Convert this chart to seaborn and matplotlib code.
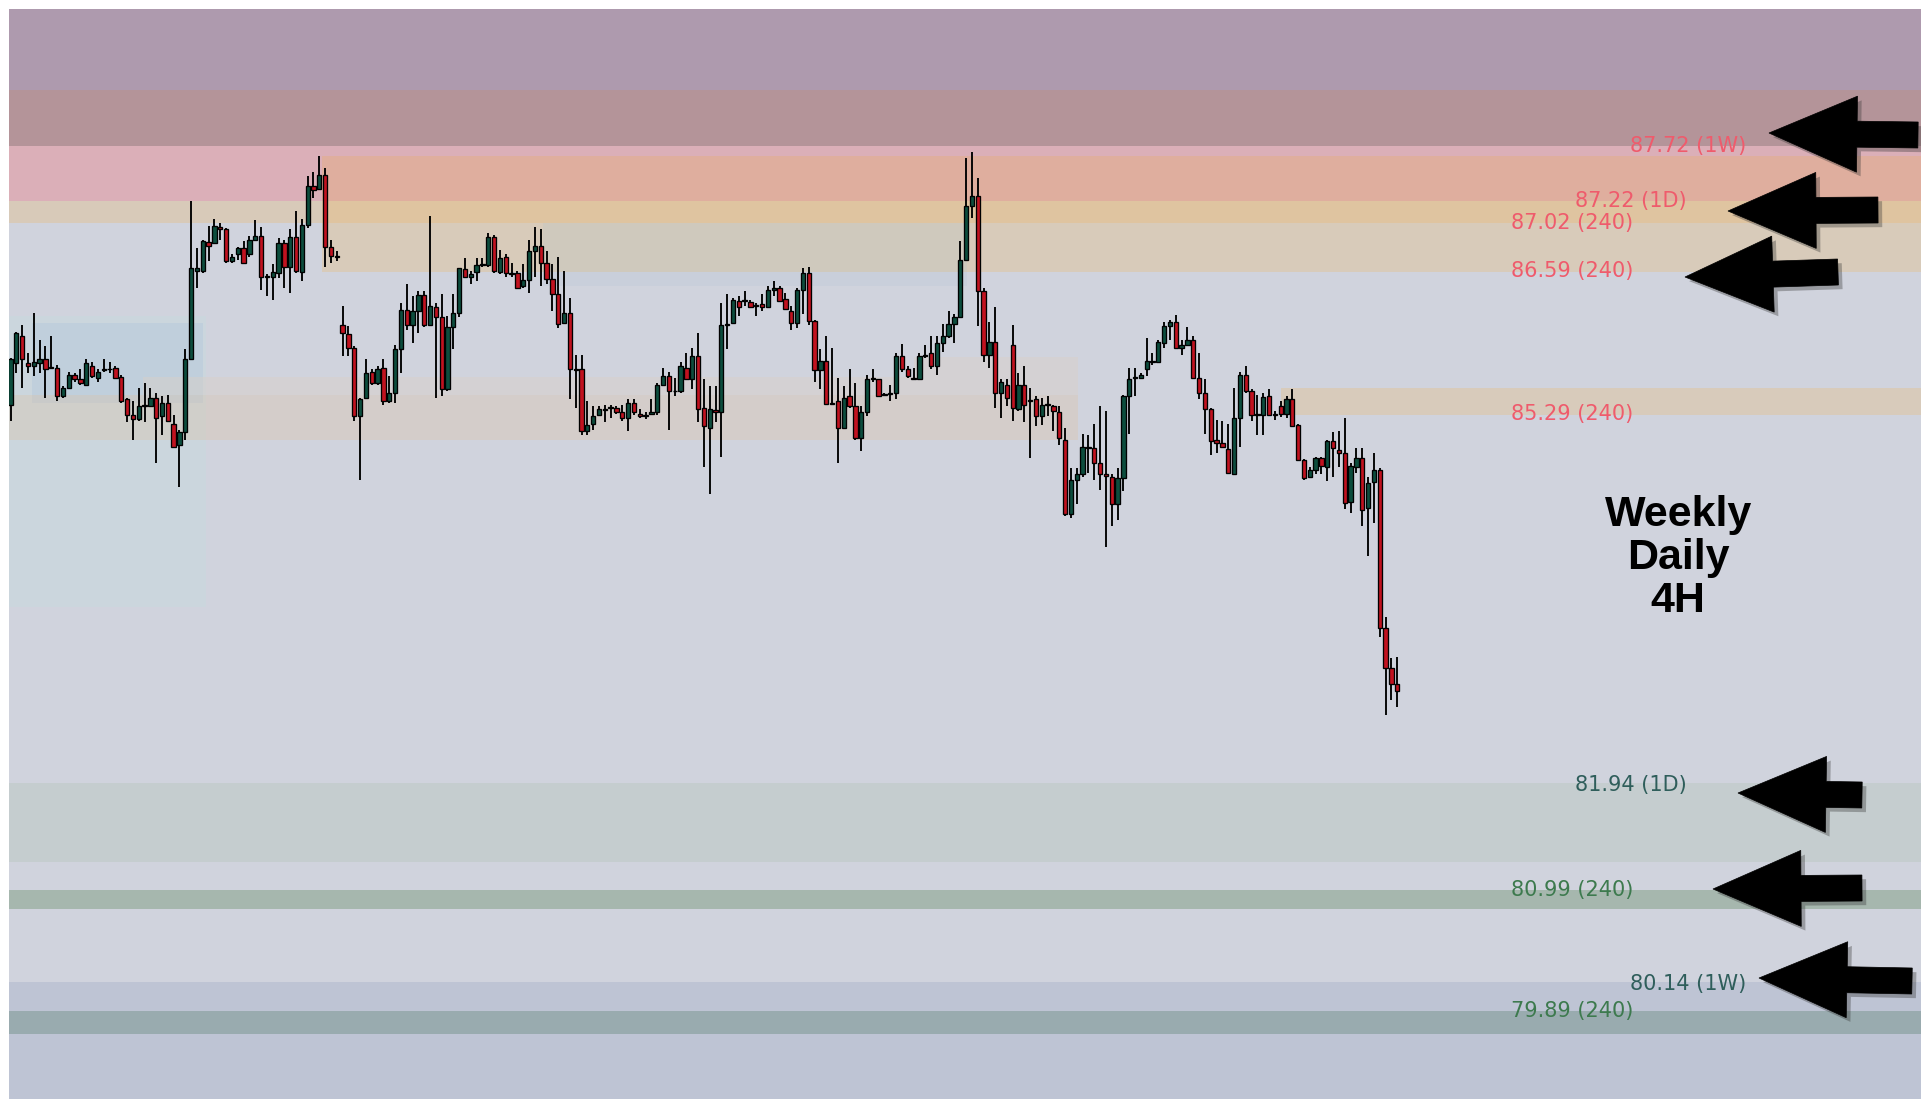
import numpy as np
import matplotlib
matplotlib.use("Agg")
import matplotlib.pyplot as plt
import matplotlib.transforms as mtransforms
import matplotlib.patheffects as pe
from matplotlib.patches import Polygon
import seaborn as sns

# 4H candles (open, high, low, close)
opens = [
    85.35, 85.73, 85.97, 85.73, 85.70, 85.73, 85.76, 85.68, 85.68, 85.43,
    85.50, 85.62, 85.58, 85.53, 85.70, 85.59, 85.66, 85.67, 85.68, 85.60,
    85.40, 85.26, 85.22, 85.34, 85.34, 85.41, 85.25, 85.37, 85.18, 84.99,
    85.10, 85.76, 86.56, 86.56, 86.82, 86.81, 86.96, 86.94, 86.65,
    86.71, 86.77, 86.71, 86.84, 86.88, 86.51, 86.51, 86.54, 86.81, 86.60,
    86.87, 86.55, 86.98, 87.33, 87.30, 87.43, 86.78, 86.70, 86.07, 85.99,
    85.86, 85.25, 85.41, 85.65, 85.55, 85.68, 85.38, 85.46, 85.85, 86.21,
    86.07, 86.20, 86.34, 86.07, 86.23, 86.14, 85.49, 86.05, 86.18, 86.58, 86.51,
    86.55, 86.61, 86.61, 86.87, 86.55, 86.69, 86.54, 86.54, 86.42, 86.48,
    86.74, 86.79, 86.63, 86.49, 86.35, 86.09, 86.18, 85.67, 85.67, 85.11,
    85.18, 85.26, 85.30, 85.32, 85.32, 85.28, 85.23, 85.37, 85.27, 85.25,
    85.27, 85.28, 85.53, 85.61, 85.47, 85.47, 85.68, 85.58, 85.79,
    85.32, 85.14, 85.30, 85.28, 86.07, 86.09, 86.29, 86.29, 86.28, 86.24,
    86.26, 86.23, 86.39, 86.41, 86.31, 86.20, 86.09, 86.39, 86.54, 86.11,
    85.66, 85.75, 85.36, 85.38, 85.14, 85.43, 85.34, 85.05, 85.28, 85.58,
    85.58, 85.44, 85.45, 85.46, 85.79, 85.67, 85.59, 85.58, 85.79,
    85.82, 85.70, 85.91, 85.97, 86.08, 86.14, 86.66, 87.15, 87.24, 86.38,
    85.80, 85.92, 85.46, 85.53, 85.89, 85.31, 85.53, 85.38, 85.40, 85.25,
    85.35, 85.34, 85.28, 85.03, 84.36, 84.67, 84.72, 84.97, 84.96, 84.82,
    84.72, 84.70, 84.45, 84.69, 85.43, 85.59, 85.59, 85.67, 85.74, 85.74,
    85.91, 86.06, 86.10, 85.86, 85.89, 85.94, 85.59, 85.46, 85.31, 85.03,
    85.00, 84.95, 84.72, 85.23, 85.62, 85.47, 85.26, 85.26, 85.43, 85.26,
    85.34, 85.27, 85.40, 85.17, 84.85, 84.70, 84.76, 84.87, 84.79, 85.02,
    84.94, 84.91, 84.47, 84.79, 84.87, 84.42, 84.65, 84.76, 83.33, 82.97, 82.82,
]
highs = [
    85.77, 86.01, 86.07, 85.82, 86.18, 85.94, 85.88, 85.97, 85.71, 85.52,
    85.65, 85.64, 85.67, 85.76, 85.74, 85.67, 85.76, 85.74, 85.70, 85.62,
    85.41, 85.38, 85.50, 85.55, 85.50, 85.46, 85.43, 85.44, 85.26, 85.12,
    85.85, 87.19, 86.77, 86.84, 86.97, 87.03, 86.99, 86.95, 86.71,
    86.78, 86.83, 86.88, 87.02, 86.96, 86.53, 86.62, 86.86, 86.84, 86.94,
    87.10, 87.03, 87.42, 87.46, 87.60, 87.49, 86.84, 86.74, 86.24, 86.06,
    85.88, 85.41, 85.76, 85.67, 85.70, 85.76, 85.61, 85.89, 86.27, 86.44,
    86.33, 86.38, 86.38, 87.06, 86.27, 86.35, 86.15, 86.35, 86.59, 86.68, 86.56,
    86.68, 86.68, 86.90, 86.89, 86.75, 86.71, 86.63, 86.56, 86.62, 86.84,
    86.96, 86.94, 86.74, 86.62, 86.69, 86.56, 86.32, 85.80, 85.80, 85.38,
    85.34, 85.34, 85.35, 85.35, 85.34, 85.35, 85.40, 85.40, 85.31, 85.28,
    85.40, 85.55, 85.68, 85.65, 85.59, 85.74, 85.82, 85.86, 86.00,
    85.58, 85.52, 85.52, 86.27, 86.35, 86.32, 86.33, 86.38, 86.30, 86.27,
    86.35, 86.42, 86.47, 86.42, 86.36, 86.24, 86.41, 86.59, 86.60, 86.12,
    85.85, 85.97, 85.86, 85.59, 85.52, 85.67, 85.55, 85.34, 85.62, 85.67,
    85.58, 85.46, 85.53, 85.82, 85.90, 85.70, 85.68, 85.82, 85.89,
    85.97, 85.97, 86.08, 86.20, 86.17, 86.83, 87.58, 87.64, 87.40, 86.41,
    86.10, 86.23, 85.58, 85.58, 86.07, 85.64, 85.70, 85.50, 85.43, 85.41,
    85.43, 85.35, 85.34, 85.14, 84.78, 84.78, 85.09, 85.08, 85.18, 85.34,
    85.29, 84.72, 84.78, 85.44, 85.68, 85.68, 85.64, 85.95, 85.82, 85.94,
    86.10, 86.12, 86.16, 85.94, 86.05, 85.97, 85.82, 85.58, 85.32, 85.21,
    85.20, 85.18, 85.50, 85.65, 85.70, 85.49, 85.44, 85.46, 85.49, 85.29,
    85.38, 85.43, 85.49, 85.18, 84.86, 84.79, 84.88, 84.88, 85.03, 85.10,
    85.11, 85.23, 84.82, 84.96, 84.96, 84.70, 84.91, 84.78, 83.43, 83.06, 83.07,
]
lows = [
    85.20, 85.64, 85.50, 85.64, 85.61, 85.64, 85.41, 85.67, 85.38, 85.41,
    85.50, 85.56, 85.53, 85.52, 85.59, 85.56, 85.65, 85.64, 85.58, 85.37,
    85.19, 85.03, 85.20, 85.19, 85.34, 84.82, 85.08, 85.19, 84.96, 84.61,
    85.03, 85.76, 86.41, 86.54, 86.65, 86.80, 86.84, 86.63, 86.63,
    86.66, 86.63, 86.69, 86.83, 86.39, 86.33, 86.30, 86.50, 86.41, 86.36,
    86.54, 86.47, 86.95, 87.22, 87.30, 86.60, 86.63, 86.65, 85.79, 85.79,
    85.20, 84.67, 85.40, 85.53, 85.53, 85.35, 85.37, 85.37, 85.64, 86.03,
    85.91, 86.00, 86.05, 86.07, 85.41, 85.43, 85.47, 85.85, 86.14, 86.50, 86.44,
    86.47, 86.60, 86.60, 86.54, 86.53, 86.51, 86.51, 86.40, 86.41, 86.36,
    86.51, 86.42, 86.44, 86.20, 86.04, 86.08, 85.40, 85.32, 85.08, 85.08,
    85.12, 85.25, 85.19, 85.23, 85.27, 85.20, 85.11, 85.26, 85.23, 85.22,
    85.27, 85.26, 85.52, 85.12, 85.43, 85.46, 85.58, 85.49, 85.19,
    84.79, 84.54, 85.19, 84.88, 85.85, 86.08, 86.15, 86.24, 86.23, 86.15,
    86.20, 86.23, 86.33, 86.28, 86.21, 86.03, 86.04, 86.17, 86.07, 85.56,
    85.49, 85.35, 85.35, 84.82, 85.14, 85.32, 85.03, 84.93, 85.25, 85.56,
    85.43, 85.43, 85.38, 85.40, 85.65, 85.59, 85.57, 85.58, 85.77,
    85.67, 85.62, 85.83, 85.95, 85.91, 86.14, 86.65, 87.04, 86.06, 85.74,
    85.68, 85.32, 85.23, 85.34, 85.20, 85.29, 85.19, 84.87, 85.16, 85.17,
    85.25, 85.11, 84.99, 84.34, 84.33, 84.45, 84.70, 84.73, 84.67, 84.58,
    84.06, 84.25, 84.31, 84.57, 85.09, 85.43, 85.58, 85.61, 85.71, 85.73,
    85.86, 85.94, 85.85, 85.80, 85.88, 85.58, 85.40, 85.09, 84.90, 84.91,
    84.96, 84.72, 84.72, 84.97, 85.46, 85.20, 85.08, 85.08, 85.26, 85.21,
    85.24, 85.23, 85.15, 84.84, 84.67, 84.69, 84.72, 84.72, 84.66, 84.70,
    84.79, 84.41, 84.37, 84.73, 84.25, 83.98, 84.28, 83.25, 82.54, 82.68, 82.62,
]
closes = [
    85.76, 86.00, 85.76, 85.70, 85.74, 85.76, 85.67, 85.69, 85.43, 85.50,
    85.62, 85.58, 85.55, 85.73, 85.61, 85.65, 85.67, 85.67, 85.59, 85.38,
    85.26, 85.22, 85.34, 85.34, 85.41, 85.23, 85.37, 85.20, 84.97, 85.10,
    85.76, 86.59, 86.59, 86.83, 86.79, 86.97, 86.94, 86.65, 86.69,
    86.77, 86.63, 86.84, 86.88, 86.51, 86.51, 86.55, 86.81, 86.60, 86.87,
    86.56, 86.98, 87.33, 87.29, 87.43, 86.78, 86.70, 86.69, 86.00, 85.86,
    85.25, 85.40, 85.64, 85.55, 85.67, 85.38, 85.46, 85.85, 86.21, 86.07,
    86.20, 86.34, 86.07, 86.24, 86.14, 85.49, 86.05, 86.18, 86.59, 86.51, 86.53,
    86.61, 86.62, 86.87, 86.56, 86.68, 86.54, 86.53, 86.41, 86.48, 86.74,
    86.79, 86.63, 86.49, 86.35, 86.08, 86.18, 85.67, 85.66, 85.11, 85.17,
    85.25, 85.31, 85.31, 85.33, 85.28, 85.23, 85.37, 85.28, 85.25, 85.25,
    85.28, 85.53, 85.61, 85.47, 85.47, 85.70, 85.58, 85.79, 85.31,
    85.16, 85.31, 85.28, 86.07, 86.08, 86.30, 86.23, 86.30, 86.23, 86.25,
    86.23, 86.39, 86.41, 86.29, 86.22, 86.09, 86.39, 86.54, 86.11, 85.66,
    85.75, 85.36, 85.37, 85.14, 85.41, 85.34, 85.05, 85.28, 85.58, 85.58,
    85.43, 85.45, 85.46, 85.79, 85.67, 85.61, 85.58, 85.79, 85.79,
    85.70, 85.91, 85.97, 86.08, 86.14, 86.66, 87.15, 87.24, 86.38, 85.80,
    85.92, 85.46, 85.56, 85.41, 85.32, 85.53, 85.35, 85.39, 85.25, 85.35,
    85.35, 85.29, 85.05, 84.36, 84.67, 84.72, 84.97, 84.96, 84.82, 84.72,
    84.71, 84.45, 84.69, 85.43, 85.58, 85.60, 85.62, 85.75, 85.75, 85.92,
    86.06, 86.10, 85.86, 85.89, 85.94, 85.59, 85.46, 85.31, 85.02, 85.00,
    84.97, 84.73, 85.23, 85.62, 85.47, 85.26, 85.26, 85.42, 85.26, 85.27,
    85.27, 85.40, 85.16, 84.85, 84.69, 84.76, 84.87, 84.80, 85.02, 84.96,
    84.91, 84.46, 84.80, 84.87, 84.40, 84.64, 84.76, 83.33, 82.97, 82.82, 82.76,
]

# zones: low, high, first candle, last candle (None = chart edge)
zone_low = [88.20, 87.69, 87.19, 86.99, 87.19, 86.99, 86.55, 86.55, 86.42,
            83.52, 85.37, 85.03, 85.44, 85.60, 85.26,
            81.21, 80.79, 79.00, 79.66]
zone_high = [89.20, 88.20, 87.69, 87.19, 87.60, 87.19, 86.99, 86.99, 86.55,
             86.15, 86.09, 85.44, 85.60, 85.78, 85.50,
             81.93, 80.96, 80.13, 79.87]
zone_start = [None, None, None, None, 53.5, 53.5, 53.5, 91.4, 91.4,
              None, 3.7, None, 22.7, 155.1, 218.0,
              None, None, None, None]
zone_end = [None, None, None, None, None, None, None, 164.2, 164.2,
            33.6, 33.0, 183.2, 183.2, 183.2, None,
            None, None, None, None]
zone_colors = ["#ae9aae", "#b49499", "#dbafb8", "#d8cab9", "#dfae9e", "#dfc4a0",
               "#d8cbba", "#cfc9bd", "#c9cfdb",
               "#cbd6dd", "#c0cfdc", "#dcc3a8", "#d9cfc8", "#d9cfc8", "#d8cbbb",
               "#c5cdcf", "#a6b7ae", "#bec4d4", "#99abaf"]
zone_alpha = [1, 1, 1, 1, 1, 1, 1, 1, 1, 1, 1, 0.35, 0.45, 0.45, 1, 1, 1, 1, 1]

level_values = [87.72, 87.22, 87.02, 86.59, 85.29, 81.94, 80.99, 80.14, 79.89]
level_tf = ["1W", "1D", "240", "240", "240", "1D", "240", "1W", "240"]

W, H = 1921, 1099
sns.set_theme(style="white")
plt.rcParams["font.family"] = ["DejaVu Sans"]

fig = plt.figure(figsize=(W / 100, H / 100), dpi=100)
fig.patch.set_facecolor("white")
ax = fig.add_axes([9 / W, 0, (W - 9) / W, (H - 9) / H])
ax.set_facecolor("#d0d3dd")
x_lo, x_hi = -0.26, 327.9
ax.set_xlim(x_lo, x_hi)
ax.set_ylim(79.07, 88.93)
ax.set_xticks([])
ax.set_yticks([])
for s in ax.spines.values():
    s.set_visible(False)

# zones
for lo, hi, x0, x1, c, a in zip(zone_low, zone_high, zone_start, zone_end,
                                zone_colors, zone_alpha):
    xs = [x_lo if x0 is None else x0, x_hi if x1 is None else x1]
    ax.fill_between(xs, lo, hi, color=c, alpha=a, lw=0, zorder=1)

# candles
o = np.array(opens)
h = np.array(highs)
l = np.array(lows)
c = np.array(closes)
idx = np.arange(len(o))
up = c >= o
body_colors = np.where(up, "#0c4d3d", "#c1121f")
ax.vlines(idx, l, h, color="black", lw=1.35, zorder=3)
ax.bar(idx, np.maximum(np.abs(c - o), 0.008), bottom=np.minimum(o, c),
       width=0.74, color=body_colors, edgecolor="black", linewidth=0.95,
       zorder=4)

# level labels (nudged 3 px down, like the reference)
shift = mtransforms.ScaledTranslation(0, -3 / 100, fig.dpi_scale_trans)
trans = mtransforms.blended_transform_factory(ax.transAxes, ax.transData)
label_x = {"1W": 0.9085, "1D": 0.8776, "240": 0.8494}
for v, tf in zip(level_values, level_tf):
    if v > 84:
        col = "#ef5b6c"
    elif tf == "240":
        col = "#3d7a4e"
    else:
        col = "#2f5e5b"
    ax.text(label_x[tf], v, f"{v:.2f} ({tf})", transform=trans + shift,
            ha="right", va="center", fontsize=15, color=col, zorder=6)

ax.text(0.873, 83.965, "Weekly\nDaily\n4H", transform=trans, ha="center",
        va="center", fontsize=31, fontweight="bold", family="Liberation Sans",
        color="black", linespacing=1.1, multialignment="center", zorder=6)


# black arrows pointing at the levels (figure pixels, y from top)
def arrow(tip, tail, head_len=88, head_half=38, shaft_half=13):
    tip = np.array(tip, float)
    tail = np.array(tail, float)
    d = tail - tip
    d /= np.hypot(*d)
    n = np.array([-d[1], d[0]])
    base = tip + d * head_len
    pts = [tip, base + n * head_half, base + n * shaft_half,
           tail + n * shaft_half, tail - n * shaft_half,
           base - n * shaft_half, base - n * head_half]
    pts = [(p[0] / W, 1 - p[1] / H) for p in pts]
    poly = Polygon(pts, closed=True, transform=fig.transFigure,
                   facecolor="black", edgecolor="black", lw=0.5, zorder=10)
    poly.set_path_effects([pe.SimplePatchShadow(offset=(3, -3), alpha=0.35,
                                                shadow_rgbFace="#333333"),
                           pe.Normal()])
    fig.patches.append(poly)


arrow((1769, 133), (1918, 135))
arrow((1728, 211), (1878, 210))
arrow((1685, 277), (1838, 272))
arrow((1738, 793), (1862, 795))
arrow((1713, 889), (1862, 888))
arrow((1759, 978), (1912, 981))

fig.savefig("out.png", dpi=100, facecolor="white")
